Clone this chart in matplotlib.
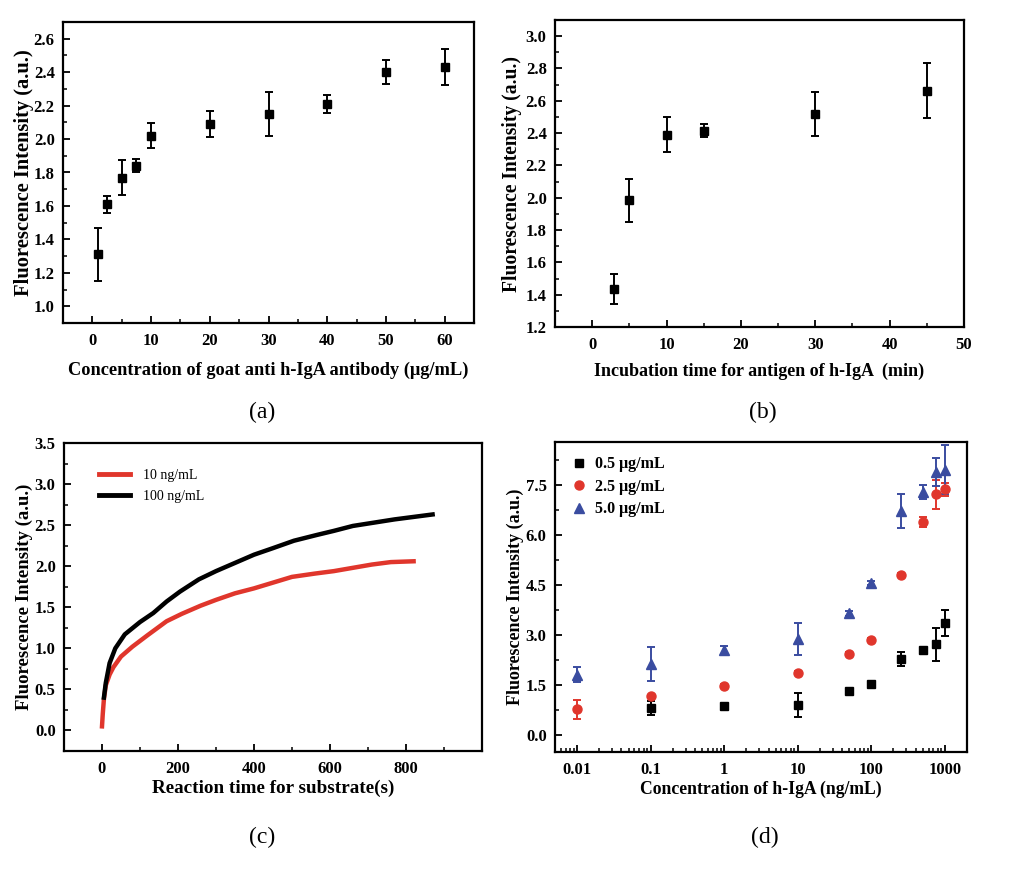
import numpy as np
import matplotlib
matplotlib.use("Agg")
import matplotlib.pyplot as plt
from matplotlib.ticker import MultipleLocator

plt.rcParams.update({
    "font.family": ["Liberation Serif", "DejaVu Serif"],
    "font.weight": "bold",
    "axes.labelweight": "bold",
    "axes.linewidth": 1.6,
    "xtick.direction": "in",
    "ytick.direction": "in",
    "xtick.major.width": 1.3,
    "ytick.major.width": 1.3,
    "xtick.minor.width": 1.1,
    "ytick.minor.width": 1.1,
    "xtick.major.size": 5,
    "ytick.major.size": 5,
    "xtick.minor.size": 3,
    "ytick.minor.size": 3,
})

# (a) capture antibody concentration
a_conc = [1, 2.5, 5, 7.5, 10, 20, 30, 40, 50, 60]
a_int = [1.31, 1.61, 1.77, 1.84, 2.02, 2.09, 2.15, 2.21, 2.40, 2.43]
a_err = [0.157, 0.05, 0.103, 0.04, 0.075, 0.075, 0.131, 0.056, 0.07, 0.108]

# (b) antigen incubation time
b_time = [3, 5, 10, 15, 30, 45]
b_int = [1.435, 1.984, 2.391, 2.414, 2.517, 2.663]
b_err = [0.095, 0.135, 0.11, 0.04, 0.136, 0.172]

# (c) kinetic curves
c10_t = [0, 2, 5, 10, 20, 30, 50, 80, 120, 170, 210, 260, 300, 350, 400,
         450, 500, 560, 610, 660, 710, 760, 820]
c10_y = [0.05, 0.20, 0.38, 0.55, 0.68, 0.77, 0.90, 1.02, 1.16, 1.33, 1.42,
         1.52, 1.59, 1.67, 1.73, 1.80, 1.87, 1.91, 1.94, 1.98, 2.02, 2.05, 2.06]
c100_t = [5, 10, 20, 35, 60, 100, 135, 170, 205, 255, 300, 345, 400, 450,
          505, 565, 610, 660, 715, 770, 820, 870]
c100_y = [0.40, 0.58, 0.82, 1.00, 1.17, 1.32, 1.43, 1.57, 1.69, 1.84, 1.94,
          2.03, 2.14, 2.22, 2.31, 2.38, 2.43, 2.49, 2.53, 2.57, 2.60, 2.63]

# (d) calibration curves
d_conc = [0.01, 0.1, 1, 10, 50, 100, 250, 500, 750, 1000]
d05_conc = [0.1, 1, 10, 50, 100, 250, 500, 750, 1000]
d05_int = [0.82, 0.87, 0.91, 1.32, 1.55, 2.30, 2.56, 2.73, 3.38]
d05_err = [0.22, 0.05, 0.37, 0.05, 0.05, 0.21, 0.06, 0.49, 0.39]
d25_int = [0.78, 1.17, 1.49, 1.87, 2.45, 2.87, 4.82, 6.40, 7.23, 7.38]
d25_err = [0.28, 0.05, 0.04, 0.05, 0.05, 0.05, 0.04, 0.14, 0.43, 0.20]
d50_int = [1.82, 2.14, 2.56, 2.88, 3.66, 4.58, 6.73, 7.30, 7.90, 7.97]
d50_err = [0.22, 0.52, 0.12, 0.48, 0.07, 0.06, 0.52, 0.20, 0.43, 0.74]

RED = "#E0362C"
BLUE = "#3A4CA0"

W, H = 1024, 872
fig = plt.figure(figsize=(W / 100, H / 100), dpi=100)


def box(l, t, r, b):
    return [l / W, 1 - b / H, (r - l) / W, (b - t) / H]


def style(ax):
    ax.tick_params(which="both", top=False, right=False, labelsize=12)
    ax.tick_params(axis="x", which="major", pad=7)
    ax.tick_params(axis="y", which="major", pad=6)


ylab = "Fluorescence Intensity (a.u.)"
eb = dict(capsize=3.2, elinewidth=1.4, capthick=1.4)

# ---- (a)
ax = fig.add_axes(box(63, 22, 474, 323))
ax.errorbar(a_conc, a_int, yerr=a_err, fmt="s", color="black", ms=5.8, **eb)
ax.set_xlim(-5, 65)
ax.set_ylim(0.9, 2.7)
ax.xaxis.set_major_locator(MultipleLocator(10))
ax.xaxis.set_minor_locator(MultipleLocator(5))
ax.set_yticks(np.arange(1.0, 2.61, 0.2))
ax.yaxis.set_minor_locator(MultipleLocator(0.1))
style(ax)
ax.set_xlabel("Concentration of goat anti h-IgA antibody (\u03bcg/mL)",
              fontsize=13.2, labelpad=9)
ax.set_ylabel(ylab, fontsize=14.8, labelpad=0)

# ---- (b)
ax = fig.add_axes(box(555, 20, 964, 327))
ax.errorbar(b_time, b_int, yerr=b_err, fmt="s", color="black", ms=5.8, **eb)
ax.set_xlim(-5, 50)
ax.set_ylim(1.2, 3.1)
ax.xaxis.set_major_locator(MultipleLocator(10))
ax.xaxis.set_minor_locator(MultipleLocator(5))
ax.set_yticks(np.arange(1.2, 3.01, 0.2))
ax.yaxis.set_minor_locator(MultipleLocator(0.1))
style(ax)
ax.set_xlabel("Incubation time for antigen of h-IgA  (min)", fontsize=13,
              labelpad=7)
ax.set_ylabel(ylab, fontsize=14.1, labelpad=2.5)

# ---- (c)
ax = fig.add_axes(box(64, 443, 482, 751))
ax.plot(c10_t, c10_y, color=RED, lw=3.2, label="10 ng/mL")
ax.plot(c100_t, c100_y, color="black", lw=3.2, label="100 ng/mL")
ax.set_xlim(-100, 1000)
ax.set_ylim(-0.25, 3.5)
ax.set_xticks([0, 200, 400, 600, 800])
ax.xaxis.set_minor_locator(MultipleLocator(100))
ax.yaxis.set_major_locator(MultipleLocator(0.5))
ax.yaxis.set_minor_locator(MultipleLocator(0.25))
style(ax)
ax.set_xlabel("Reaction time for substrate(s)", fontsize=13.8, labelpad=2)
ax.set_ylabel(ylab, fontsize=13.5, labelpad=1.5)
leg = ax.legend(loc="upper left", bbox_to_anchor=(0.055, 0.955), frameon=False,
                handlelength=2.2, handletextpad=0.9, labelspacing=0.55,
                prop={"family": "Liberation Serif", "weight": "normal",
                      "size": 10})
for ln in leg.get_lines():
    ln.set_linewidth(3.5)

# ---- (d)
ax = fig.add_axes(box(555, 442, 967, 752))
h1 = ax.errorbar(d05_conc, d05_int, yerr=d05_err, fmt="s", color="black",
                 ms=6, **eb)
h2 = ax.errorbar(d_conc, d25_int, yerr=d25_err, fmt="o", color=RED, ms=6.5,
                 **eb)
h3 = ax.errorbar(d_conc, d50_int, yerr=d50_err, fmt="^", color=BLUE, ms=7.5,
                 **eb)
ax.set_xscale("log")
ax.set_xlim(0.005, 2000)
ax.set_ylim(-0.5, 8.8)
ax.set_xticks([0.01, 0.1, 1, 10, 100, 1000])
ax.set_xticklabels(["0.01", "0.1", "1", "10", "100", "1000"])
ax.yaxis.set_major_locator(MultipleLocator(1.5))
ax.yaxis.set_minor_locator(MultipleLocator(0.75))
style(ax)
ax.set_xlabel("Concentration of h-IgA (ng/mL)", fontsize=12.7, labelpad=2)
ax.set_ylabel(ylab, fontsize=13, labelpad=1)
ax.legend([h1[0], h2[0], h3[0]],
          ["0.5 \u03bcg/mL", "2.5 \u03bcg/mL", "5.0 \u03bcg/mL"],
          loc="upper left", bbox_to_anchor=(0.005, 1.0), frameon=False,
          handletextpad=0.5, labelspacing=0.4, handlelength=1.0,
          prop={"family": "Liberation Serif", "weight": "bold", "size": 11.5})

for lbl, x, y in [("(a)", 262, 412), ("(b)", 763, 412),
                  ("(c)", 262, 837), ("(d)", 765, 837)]:
    fig.text(x / W, 1 - y / H, lbl, ha="center", va="center", fontsize=17,
             fontweight="normal")

fig.savefig("out.png", dpi=100)
